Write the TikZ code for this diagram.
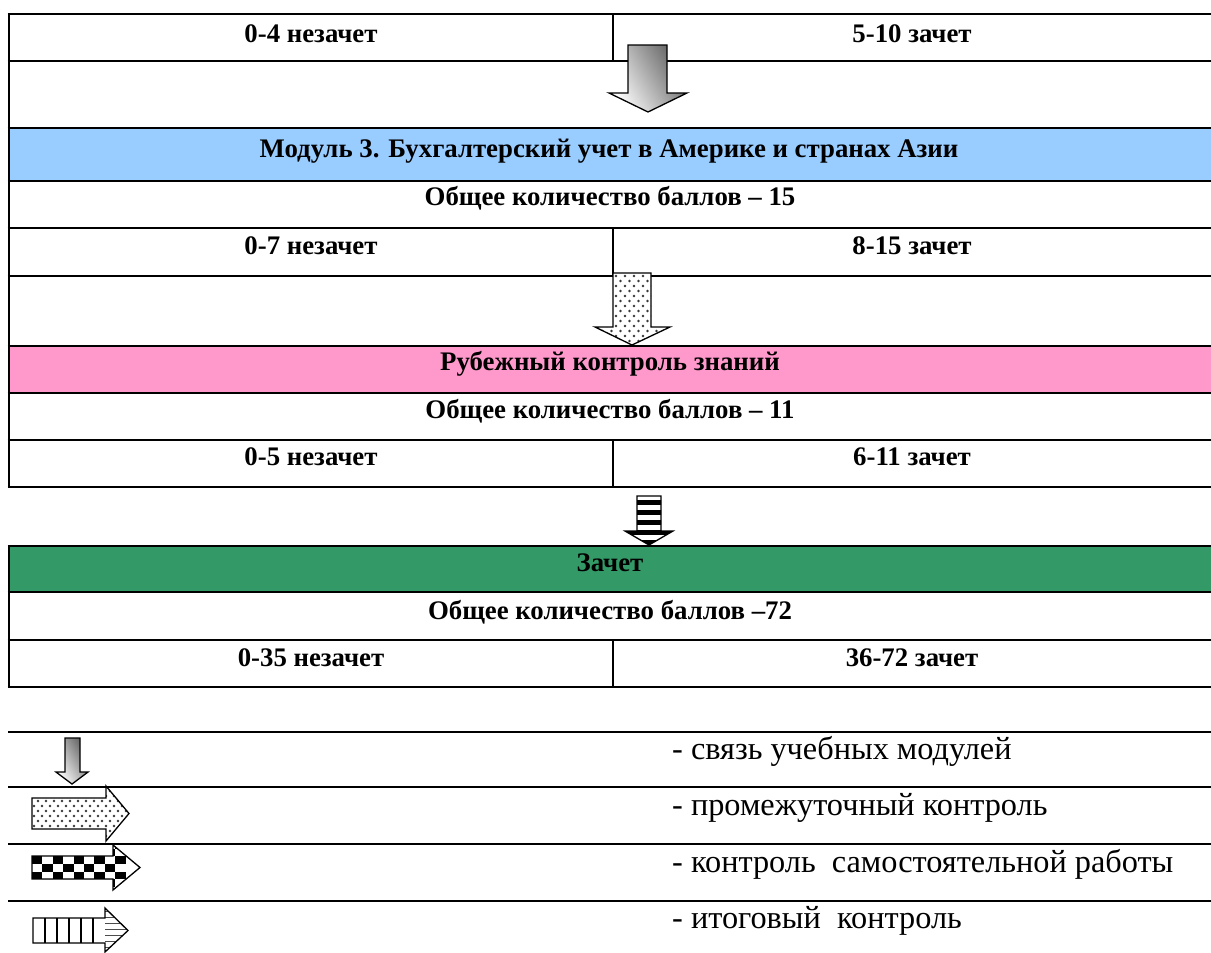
\documentclass[tikz,border=0pt]{standalone}
\usepackage{fontspec}
\setmainfont{Liberation Serif}
\definecolor{modblue}{RGB}{153,204,255}
\definecolor{rubpink}{RGB}{255,153,204}
\definecolor{zachgreen}{RGB}{51,153,102}
\definecolor{dotc}{RGB}{55,55,55}
\begin{document}
\begin{tikzpicture}[x=1pt,y=-1pt,
  tline/.style={line width=2.6pt},
  vline/.style={line width=1.4pt},
  lbl/.style={font=\bfseries\fontsize{26.8}{30}\selectfont, anchor=base, inner sep=0pt},
  leg/.style={font=\fontsize{32.3}{36}\selectfont, anchor=base west, inner sep=0pt},
  arr/.style={draw=black, line width=1.3pt, line join=miter},
  grad/.style={left color=white, right color=black!62, shading angle=120},
]
\useasboundingbox (0,0) rectangle (1211,953);
% fills
\fill[modblue] (9,128) rectangle (1212,181);
\fill[rubpink] (9,346) rectangle (1212,393);
\fill[zachgreen] (9,546) rectangle (1212,592);
% table 1 lines
\foreach \y in {14,61,128,181,228,276,346,393,440,487} \draw[tline] (7.7,\y) -- (1212,\y);
\draw[tline] (9,14) -- (9,487);
\draw[vline] (613,14) -- (613,61);
\draw[vline] (613,228) -- (613,276);
\draw[vline] (613,440) -- (613,487);
% table 2 lines
\foreach \y in {546,592,640,687} \draw[tline] (7.7,\y) -- (1212,\y);
\draw[tline] (9,546) -- (9,687);
\draw[vline] (613,640) -- (613,687);
% legend lines
\foreach \y in {732,787,844,901} \draw[tline] (8,\y) -- (1212,\y);

% texts
\node[lbl] (t1l) at (311,42) {0-4 незачет};
\node[lbl] (t1r) at (912,42) {5-10 зачет};
\node[lbl] (m3) at (609,157) {Модуль 3. Бухгалтерский учет в Америке и странах Азии};
\node[lbl] (tot15) at (610,205) {Общее количество баллов – 15};
\node[lbl] (t5l) at (311,254) {0-7 незачет};
\node[lbl] (t5r) at (912,254) {8-15 зачет};
\node[lbl] (rub) at (610,370) {Рубежный контроль знаний};
\node[lbl] (tot11) at (610,418) {Общее количество баллов – 11};
\node[lbl] (t9l) at (311,465) {0-5 незачет};
\node[lbl] (t9r) at (912,465) {6-11 зачет};
\node[lbl] (zach) at (610,571) {Зачет};
\node[lbl] (tot72) at (610,619) {Общее количество баллов –72};
\node[lbl] (z3l) at (311,666) {0-35 незачет};
\node[lbl] (z3r) at (912,666) {36-72 зачет};

\node[leg] (lg1) at (672,759) {- связь учебных модулей};
\node[leg] (lg2) at (672,815) {- промежуточный контроль};
\node[leg] (lg3) at (672,872) {- контроль\ \ самостоятельной работы};
\node[leg] (lg4) at (672,928) {- итоговый\ \ контроль};

% main gradient arrow
\shadedraw[arr, grad] (628,45) -- (667,45) -- (667,93) -- (687,93) -- (648,112) -- (609,93) -- (628,93) -- cycle;

% main dotted arrow
\def\dotarrow{(613,273) -- (651,273) -- (651,327) -- (670,327) -- (632,345) -- (595,327) -- (613,327) -- cycle}
\fill[white] \dotarrow;
\begin{scope}
\clip \dotarrow;
\foreach \yy in {276,286,...,346} \foreach \xx in {598,607,...,672} \fill[dotc] (\xx,\yy) circle (1.4);
\foreach \yy in {281,291,...,346} \foreach \xx in {602.5,611.5,...,672} \fill[dotc] (\xx,\yy) circle (1.4);
\end{scope}
\draw[arr] \dotarrow;

% main striped arrow
\def\striparrow{(637,496) -- (661,496) -- (661,531) -- (673,531) -- (649,545) -- (625,531) -- (637,531) -- cycle}
\fill[white] \striparrow;
\begin{scope}
\clip \striparrow;
\foreach \yy in {500,510,...,540} \fill[black] (620,\yy) rectangle (680,\yy+5);
\end{scope}
\draw[arr] \striparrow;

% legend arrows
\shadedraw[arr, grad] (65,738) -- (80,738) -- (80,772) -- (88,772) -- (72,784) -- (56,772) -- (65,772) -- cycle;

\def\ldot{(32,798) -- (106,798) -- (106,786) -- (129,813.5) -- (106,841) -- (106,829) -- (32,829) -- cycle}
\fill[white] \ldot;
\begin{scope}
\clip \ldot;
\foreach \yy in {786,796,...,842} \foreach \xx in {34,42,...,130} \fill[dotc] (\xx,\yy) circle (1.3);
\foreach \yy in {791,801,...,842} \foreach \xx in {38,46,...,130} \fill[dotc] (\xx,\yy) circle (1.3);
\end{scope}
\draw[arr] \ldot;

\def\lchk{(32,856) -- (113,856) -- (113,845) -- (140,867.5) -- (113,890) -- (113,879) -- (32,879) -- cycle}
\fill[white] \lchk;
\begin{scope}
\clip \lchk;
\foreach \i in {0,...,8} {\foreach \j in {0,...,6} {
  \pgfmathtruncatemacro{\ck}{mod(\i+\j,2)}
  \ifnum\ck=0 \fill[black] (32+\i*10.4, 840.8+\j*7.7) rectangle ++(10.4,7.7); \fi }}
\end{scope}
\draw[arr] \lchk;

\def\lstr{(33,918) -- (105,918) -- (105,908) -- (128,930.5) -- (105,952) -- (105,943) -- (33,943) -- cycle}
\fill[white] \lstr;
\begin{scope}
\clip \lstr;
\foreach \xx in {45,57,...,100} \draw[line width=1.3pt] (\xx,918) -- (\xx,943);
\foreach \yy in {911,917,...,952} \draw[line width=0.6pt, black!70] (105,\yy) -- (130,\yy);
\end{scope}
\draw[arr] \lstr;
\end{tikzpicture}
\end{document}
